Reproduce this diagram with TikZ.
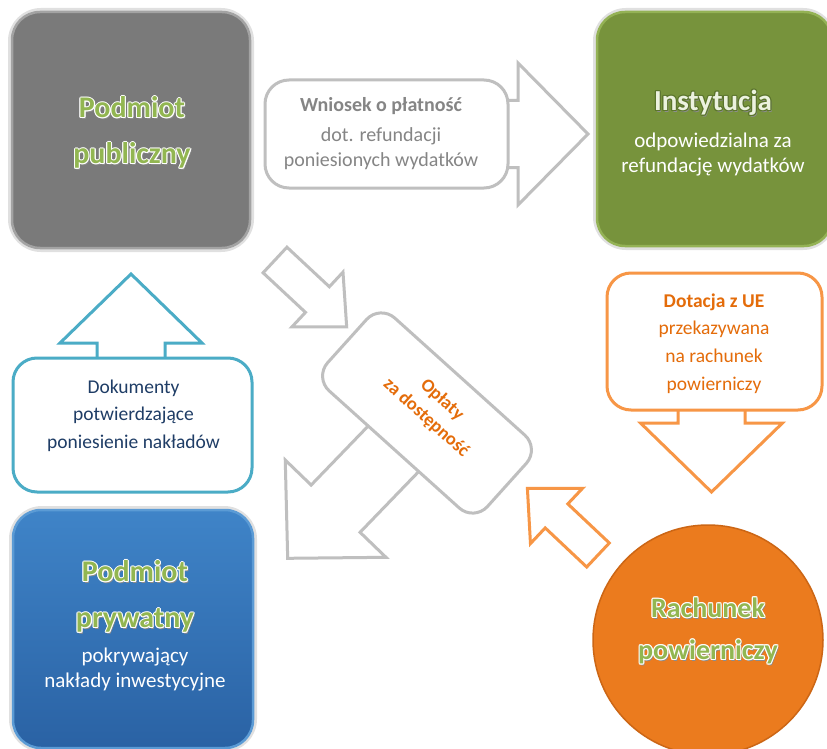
\documentclass[tikz,border=0pt]{standalone}
\usepackage{fontspec}
\setmainfont{Carlito}
\definecolor{gboxfill}{HTML}{7A7A7A}
\definecolor{gboxedge}{HTML}{A3A3A3}
\definecolor{grfill}{HTML}{77933C}
\definecolor{gredge}{HTML}{94B255}
\definecolor{bltop}{HTML}{3F84C8}
\definecolor{blbot}{HTML}{2A62A4}
\definecolor{bledge}{HTML}{5B9BD5}
\definecolor{orfill}{HTML}{EB7B1E}
\definecolor{oredge}{HTML}{CC6615}
\definecolor{tgreen}{HTML}{92B651}
\definecolor{iout}{HTML}{5A742C}
\definecolor{ifill}{HTML}{ECF2DF}
\definecolor{arrgray}{HTML}{BFBFBF}
\definecolor{txtgray}{HTML}{858585}
\definecolor{teal}{HTML}{4BACC6}
\definecolor{navy}{HTML}{1F3D66}
\definecolor{orline}{HTML}{F79646}
\definecolor{ortext}{HTML}{E46C0A}
\newcommand\halo[3]{\leavevmode
 \rlap{\kern1.3pt\raisebox{-1.8pt}{\textcolor{black!45}{#3}}}%
 \rlap{\kern-1.1pt\textcolor{#1}{#3}}%
 \rlap{\kern1.1pt\textcolor{#1}{#3}}%
 \rlap{\raisebox{1.1pt}{\textcolor{#1}{#3}}}%
 \rlap{\raisebox{-1.1pt}{\textcolor{#1}{#3}}}%
 \rlap{\kern-.8pt\raisebox{.8pt}{\textcolor{#1}{#3}}}%
 \rlap{\kern.8pt\raisebox{.8pt}{\textcolor{#1}{#3}}}%
 \rlap{\kern-.8pt\raisebox{-.8pt}{\textcolor{#1}{#3}}}%
 \rlap{\kern.8pt\raisebox{-.8pt}{\textcolor{#1}{#3}}}%
 \textcolor{#2}{#3}}
\newcommand\blkarrow[7]{%
 \begin{scope}[shift={#2},rotate=#3]
 \draw[#1] (0,-#5) -- ({#4-#7},-#5) -- ({#4-#7},-#6) -- (#4,0)
   -- ({#4-#7},#6) -- ({#4-#7},#5) -- (0,#5) -- cycle;
 \end{scope}}
\tikzset{
 bigbox/.style={rounded corners=28pt, inner sep=0pt, line width=2.5pt},
 boxshadow/.style={rounded corners=30pt, inner sep=0pt, draw=black!12, line width=6pt},
 grayarrow/.style={draw=arrgray, line width=3pt, fill=white, line join=miter},
 tealarrow/.style={draw=teal, line width=3pt, fill=white, line join=miter},
 orarrow/.style={draw=orline, line width=3pt, fill=white, line join=miter},
 callout/.style={rounded corners=24pt, inner sep=0pt, line width=3pt, fill=white},
 titletxt/.style={align=center, font=\bfseries\fontsize{30}{46}\selectfont},
 subtxt/.style={align=center, text=white, font=\fontsize{21}{25}\selectfont},
 calltxt/.style={align=center, font=\fontsize{19.5}{27.6}\selectfont},
}
\begin{document}
\begin{tikzpicture}[x=1pt,y=1pt]
\useasboundingbox (0,0) rectangle (827,-749);
\clip (0,0) rectangle (827,-749);
\fill[white] (0,0) rectangle (827,-749);

% top callout (gray)
\blkarrow{grayarrow}{(490,-134)}{0}{98}{33.5}{71}{70}
\node[callout, draw=arrgray, minimum width=243, minimum height=108] (wn) at (386.5,-134) {};
\node[calltxt, text=txtgray, font=\fontsize{20}{25}\selectfont] (wnT) at (381,-134)
 {\textbf{Wniosek o płatność}\\[5pt]dot. refundacji\\poniesionych wydatków};

% gray arrow into centre
\blkarrow{grayarrow}{(275,-260)}{-43}{98}{17.5}{37.5}{40}
% big gray arrow out of centre
\blkarrow{grayarrow}{(428,-413)}{-134}{202}{34}{70}{69}

% centre rotated box
\node[rounded corners=20pt, draw=arrgray, line width=3pt, fill=white,
      minimum width=215, minimum height=98, rotate=-42] (opl) at (427,-413) {};
\node[align=center, text=ortext, rotate=-42, font=\bfseries\fontsize{18.5}{24}\selectfont]
 (oplT) at (434,-409) {Opłaty\\za dostępność};

% blue callout
\blkarrow{tealarrow}{(131,-380)}{90}{106}{34}{71}{69}
\node[callout, draw=teal, minimum width=239, minimum height=134] (dok) at (132.5,-425) {};
\node[calltxt, text=navy] (dokT) at (133.5,-415.5)
 {Dokumenty\\potwierdzające\\poniesienie nakładów};

% orange callout
\blkarrow{orarrow}{(711.5,-395)}{-90}{97}{33.5}{71}{69}
\node[callout, draw=orline, minimum width=215, minimum height=137] (dot) at (714.5,-341.5) {};
\node[calltxt, text=ortext] (dotT) at (714,-343.5)
 {\textbf{Dotacja z UE}\\przekazywana\\na rachunek\\powierniczy};

% orange arrow to centre
\blkarrow{orarrow}{(598,-555)}{136.7}{97}{16.5}{38}{40}

% public entity box
\node[boxshadow, minimum width=240, minimum height=238] (pubS) at (131,-130) {};
\node[bigbox, fill=gboxfill, draw=gboxedge, minimum width=238, minimum height=236] (pub) at (131,-130) {};
\node[titletxt] (pubT) at (132,-133)
 {\halo{white}{tgreen}{Podmiot}\\\halo{white}{tgreen}{publiczny}};

% institution box
\node[boxshadow, minimum width=237, minimum height=236] (insS) at (714.5,-129) {};
\node[bigbox, fill=grfill, draw=gredge, minimum width=235, minimum height=234] (ins) at (714.5,-129) {};
\node[font=\bfseries\fontsize{29}{34}\selectfont] (insT) at (713,-103)
 {\halo{iout}{ifill}{Instytucja}};
\node[subtxt] (insS2) at (713,-154.5) {odpowiedzialna za\\refundację wydatków};

% private entity box
\node[boxshadow, minimum width=242, minimum height=240] (prvS) at (133,-629) {};
\node[bigbox, top color=bltop, bottom color=blbot, draw=bledge, minimum width=240, minimum height=238] (prv) at (133,-629) {};
\node[titletxt] (prvT) at (135,-597)
 {\halo{white}{tgreen}{Podmiot}\\\halo{white}{tgreen}{prywatny}};
\node[subtxt] (prvS2) at (135,-670) {pokrywający\\nakłady inwestycyjne};

% trust account circle
\node[circle, fill=orfill, draw=oredge, line width=1.5pt, minimum size=230, inner sep=0pt] (rach) at (708,-640) {};
\node[align=center, font=\bfseries\fontsize{28}{42}\selectfont] (rachT) at (708,-631)
 {\halo{white}{tgreen}{Rachunek}\\\halo{white}{tgreen}{powierniczy}};
\end{tikzpicture}
\end{document}
